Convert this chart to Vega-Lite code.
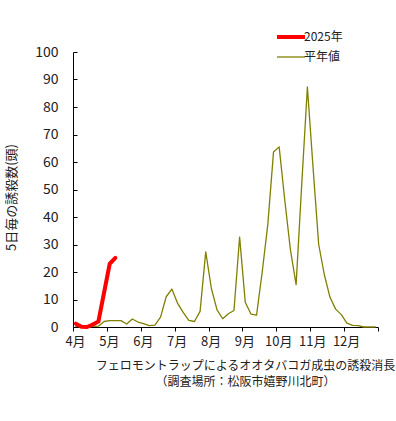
{
  "$schema": "https://vega.github.io/schema/vega-lite/v6.json",
  "width": 305,
  "height": 275,
  "autosize": "none",
  "padding": {"left": 73, "top": 52, "right": 18, "bottom": 94},
  "background": "white",
  "config": {"view": {"stroke": null}, "font": "Noto Sans CJK JP"},
  "data": {"values": [
    {"series": "平年値", "hanjun": 1, "count": 0.2},
    {"series": "平年値", "hanjun": 2, "count": 0.1},
    {"series": "平年値", "hanjun": 3, "count": 0},
    {"series": "平年値", "hanjun": 4, "count": 0.2},
    {"series": "平年値", "hanjun": 5, "count": 0.3},
    {"series": "平年値", "hanjun": 6, "count": 2.0},
    {"series": "平年値", "hanjun": 7, "count": 2.3},
    {"series": "平年値", "hanjun": 8, "count": 2.3},
    {"series": "平年値", "hanjun": 9, "count": 2.3},
    {"series": "平年値", "hanjun": 10, "count": 1.1},
    {"series": "平年値", "hanjun": 11, "count": 2.9},
    {"series": "平年値", "hanjun": 12, "count": 1.8},
    {"series": "平年値", "hanjun": 13, "count": 1.2},
    {"series": "平年値", "hanjun": 14, "count": 0.5},
    {"series": "平年値", "hanjun": 15, "count": 0.7},
    {"series": "平年値", "hanjun": 16, "count": 3.6},
    {"series": "平年値", "hanjun": 17, "count": 11.0},
    {"series": "平年値", "hanjun": 18, "count": 13.8},
    {"series": "平年値", "hanjun": 19, "count": 8.7},
    {"series": "平年値", "hanjun": 20, "count": 5.3},
    {"series": "平年値", "hanjun": 21, "count": 2.4},
    {"series": "平年値", "hanjun": 22, "count": 2.0},
    {"series": "平年値", "hanjun": 23, "count": 5.7},
    {"series": "平年値", "hanjun": 24, "count": 27.3},
    {"series": "平年値", "hanjun": 25, "count": 14.0},
    {"series": "平年値", "hanjun": 26, "count": 6.2},
    {"series": "平年値", "hanjun": 27, "count": 3.0},
    {"series": "平年値", "hanjun": 28, "count": 4.8},
    {"series": "平年値", "hanjun": 29, "count": 6.0},
    {"series": "平年値", "hanjun": 30, "count": 32.7},
    {"series": "平年値", "hanjun": 31, "count": 9.0},
    {"series": "平年値", "hanjun": 32, "count": 4.7},
    {"series": "平年値", "hanjun": 33, "count": 4.3},
    {"series": "平年値", "hanjun": 34, "count": 20.0},
    {"series": "平年値", "hanjun": 35, "count": 37.5},
    {"series": "平年値", "hanjun": 36, "count": 63.6},
    {"series": "平年値", "hanjun": 37, "count": 65.5},
    {"series": "平年値", "hanjun": 38, "count": 46.0},
    {"series": "平年値", "hanjun": 39, "count": 28.0},
    {"series": "平年値", "hanjun": 40, "count": 15.4},
    {"series": "平年値", "hanjun": 41, "count": 52.0},
    {"series": "平年値", "hanjun": 42, "count": 87.3},
    {"series": "平年値", "hanjun": 43, "count": 58.0},
    {"series": "平年値", "hanjun": 44, "count": 30.0},
    {"series": "平年値", "hanjun": 45, "count": 19.0},
    {"series": "平年値", "hanjun": 46, "count": 10.8},
    {"series": "平年値", "hanjun": 47, "count": 6.5},
    {"series": "平年値", "hanjun": 48, "count": 4.5},
    {"series": "平年値", "hanjun": 49, "count": 1.4},
    {"series": "平年値", "hanjun": 50, "count": 0.6},
    {"series": "平年値", "hanjun": 51, "count": 0.5},
    {"series": "平年値", "hanjun": 52, "count": 0},
    {"series": "平年値", "hanjun": 53, "count": 0},
    {"series": "平年値", "hanjun": 54, "count": 0},
    {"series": "2025年", "hanjun": 1, "count": 1.2},
    {"series": "2025年", "hanjun": 2, "count": 0.1},
    {"series": "2025年", "hanjun": 3, "count": 0},
    {"series": "2025年", "hanjun": 4, "count": 0.9},
    {"series": "2025年", "hanjun": 5, "count": 2.0},
    {"series": "2025年", "hanjun": 7, "count": 23.0},
    {"series": "2025年", "hanjun": 8, "count": 25.1}
  ]},
  "mark": {"type": "line", "strokeJoin": "round", "strokeCap": "round"},
  "encoding": {
    "x": {
      "field": "hanjun", "type": "quantitative",
      "scale": {"domain": [0.5, 54.5], "nice": false, "zero": false},
      "axis": {
        "values": [0.5, 6.5, 12.5, 18.5, 24.5, 30.5, 36.5, 42.5, 48.5, 54.5],
        "labelExpr": "datum.value < 54 ? ((datum.value - 0.5) / 6 + 4) + '月' : ''",
        "grid": false, "domainColor": "black", "tickColor": "black", "tickSize": 4,
        "labelFontSize": 13, "labelColor": "#222", "labelPadding": 4, "labelOffset": 2,
        "labelFlush": false, "labelOverlap": false,
        "title": ["フェロモントラップによるオオタバコガ成虫の誘殺消長", "（調査場所：松阪市嬉野川北町）"],
        "titleX": 172, "titleY": 33, "titleBaseline": "top", "titleAlign": "center",
        "titleFontSize": 12, "titleFontWeight": "normal", "titleLineHeight": 16, "titleColor": "#222"
      }
    },
    "y": {
      "field": "count", "type": "quantitative",
      "scale": {"domain": [0, 100], "nice": false},
      "axis": {
        "values": [0, 10, 20, 30, 40, 50, 60, 70, 80, 90, 100],
        "grid": false, "domainColor": "black", "tickColor": "black", "tickSize": -4,
        "labelFontSize": 14, "labelColor": "#222", "labelPadding": 19,
        "title": "5日毎の誘殺数(頭)", "titleFontSize": 13, "titleFontWeight": "normal",
        "titleColor": "#222", "titleX": -62, "titleY": 145, "titleBaseline": "middle", "titleAngle": -90
      }
    },
    "color": {
      "field": "series", "type": "nominal",
      "scale": {"domain": ["2025年", "平年値"], "range": ["#ff0000", "#808000"]},
      "legend": {
        "orient": "none", "legendX": 209, "legendY": -24, "title": null,
        "symbolType": "M-2,0H2", "symbolSize": 196, "labelFontSize": 12, "labelColor": "#222",
        "rowPadding": 4, "labelOffset": 4
      }
    },
    "strokeWidth": {
      "field": "series", "type": "nominal",
      "scale": {"domain": ["2025年", "平年値"], "range": [4, 1.3]}
    }
  }
}
